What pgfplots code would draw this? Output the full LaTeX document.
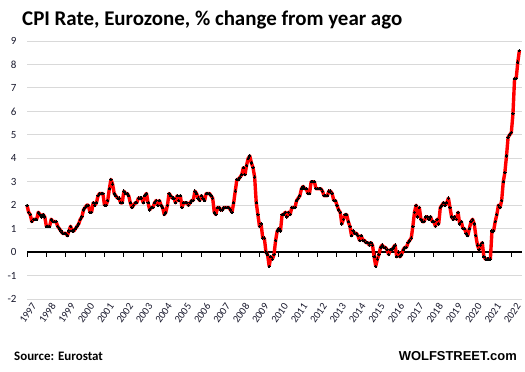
\documentclass[border=0pt]{standalone}
\usepackage{pgfplots}
\pgfplotsset{compat=1.18}
\usepackage{pgfplotstable}
\usepackage{fontspec}
\setmainfont{Carlito}
\newfontfamily\arialfont{Liberation Sans}
\definecolor{gridgray}{RGB}{217,217,217}
\definecolor{txt}{RGB}{25,25,45}
\pgfplotstableread{
yr mo v
1997 1 2.0
1997 2 1.7
1997 3 1.6
1997 4 1.3
1997 5 1.4
1997 6 1.4
1997 7 1.4
1997 8 1.7
1997 9 1.6
1997 10 1.5
1997 11 1.6
1997 12 1.5
1998 1 1.1
1998 2 1.1
1998 3 1.1
1998 4 1.4
1998 5 1.3
1998 6 1.3
1998 7 1.3
1998 8 1.1
1998 9 1.0
1998 10 0.9
1998 11 0.8
1998 12 0.8
1999 1 0.8
1999 2 0.7
1999 3 0.9
1999 4 1.1
1999 5 0.9
1999 6 0.9
1999 7 1.0
1999 8 1.1
1999 9 1.2
1999 10 1.4
1999 11 1.5
1999 12 1.8
2000 1 1.9
2000 2 2.0
2000 3 2.0
2000 4 1.7
2000 5 1.7
2000 6 2.1
2000 7 2.0
2000 8 2.1
2000 9 2.4
2000 10 2.5
2000 11 2.5
2000 12 2.5
2001 1 2.0
2001 2 2.0
2001 3 2.2
2001 4 2.7
2001 5 3.1
2001 6 2.9
2001 7 2.5
2001 8 2.4
2001 9 2.3
2001 10 2.3
2001 11 2.1
2001 12 2.1
2002 1 2.6
2002 2 2.5
2002 3 2.5
2002 4 2.4
2002 5 2.1
2002 6 1.9
2002 7 2.0
2002 8 2.1
2002 9 2.1
2002 10 2.3
2002 11 2.3
2002 12 2.3
2003 1 2.1
2003 2 2.4
2003 3 2.5
2003 4 2.1
2003 5 1.8
2003 6 1.9
2003 7 1.9
2003 8 2.1
2003 9 2.2
2003 10 2.0
2003 11 2.2
2003 12 2.0
2004 1 1.9
2004 2 1.6
2004 3 1.7
2004 4 2.0
2004 5 2.5
2004 6 2.4
2004 7 2.3
2004 8 2.3
2004 9 2.1
2004 10 2.4
2004 11 2.2
2004 12 2.4
2005 1 1.9
2005 2 2.1
2005 3 2.1
2005 4 2.1
2005 5 2.0
2005 6 2.1
2005 7 2.2
2005 8 2.2
2005 9 2.6
2005 10 2.5
2005 11 2.3
2005 12 2.2
2006 1 2.4
2006 2 2.3
2006 3 2.2
2006 4 2.5
2006 5 2.5
2006 6 2.5
2006 7 2.4
2006 8 2.3
2006 9 1.7
2006 10 1.6
2006 11 1.9
2006 12 1.9
2007 1 1.8
2007 2 1.8
2007 3 1.9
2007 4 1.9
2007 5 1.9
2007 6 1.9
2007 7 1.8
2007 8 1.7
2007 9 2.1
2007 10 2.6
2007 11 3.1
2007 12 3.1
2008 1 3.2
2008 2 3.3
2008 3 3.6
2008 4 3.3
2008 5 3.7
2008 6 4.0
2008 7 4.1
2008 8 3.8
2008 9 3.6
2008 10 3.2
2008 11 2.1
2008 12 1.6
2009 1 1.1
2009 2 1.2
2009 3 0.6
2009 4 0.6
2009 5 0.0
2009 6 -0.1
2009 7 -0.6
2009 8 -0.2
2009 9 -0.3
2009 10 -0.1
2009 11 0.5
2009 12 0.9
2010 1 1.0
2010 2 0.9
2010 3 1.6
2010 4 1.6
2010 5 1.7
2010 6 1.5
2010 7 1.7
2010 8 1.6
2010 9 1.9
2010 10 1.9
2010 11 1.9
2010 12 2.2
2011 1 2.3
2011 2 2.4
2011 3 2.7
2011 4 2.8
2011 5 2.7
2011 6 2.7
2011 7 2.5
2011 8 2.5
2011 9 3.0
2011 10 3.0
2011 11 3.0
2011 12 2.7
2012 1 2.7
2012 2 2.7
2012 3 2.7
2012 4 2.6
2012 5 2.4
2012 6 2.4
2012 7 2.4
2012 8 2.6
2012 9 2.6
2012 10 2.5
2012 11 2.2
2012 12 2.2
2013 1 2.0
2013 2 1.8
2013 3 1.7
2013 4 1.2
2013 5 1.4
2013 6 1.6
2013 7 1.6
2013 8 1.3
2013 9 1.1
2013 10 0.7
2013 11 0.9
2013 12 0.8
2014 1 0.8
2014 2 0.7
2014 3 0.5
2014 4 0.7
2014 5 0.5
2014 6 0.5
2014 7 0.4
2014 8 0.4
2014 9 0.3
2014 10 0.4
2014 11 0.3
2014 12 -0.2
2015 1 -0.6
2015 2 -0.3
2015 3 -0.1
2015 4 0.2
2015 5 0.3
2015 6 0.2
2015 7 0.2
2015 8 0.1
2015 9 -0.1
2015 10 0.1
2015 11 0.1
2015 12 0.2
2016 1 0.3
2016 2 -0.2
2016 3 0.0
2016 4 -0.2
2016 5 -0.1
2016 6 0.1
2016 7 0.2
2016 8 0.2
2016 9 0.4
2016 10 0.5
2016 11 0.6
2016 12 1.1
2017 1 1.7
2017 2 2.0
2017 3 1.5
2017 4 1.9
2017 5 1.4
2017 6 1.3
2017 7 1.3
2017 8 1.5
2017 9 1.5
2017 10 1.4
2017 11 1.5
2017 12 1.3
2018 1 1.3
2018 2 1.1
2018 3 1.4
2018 4 1.2
2018 5 1.9
2018 6 2.0
2018 7 2.1
2018 8 2.0
2018 9 2.1
2018 10 2.3
2018 11 1.9
2018 12 1.5
2019 1 1.4
2019 2 1.5
2019 3 1.4
2019 4 1.7
2019 5 1.2
2019 6 1.3
2019 7 1.0
2019 8 1.0
2019 9 0.8
2019 10 0.7
2019 11 1.0
2019 12 1.3
2020 1 1.4
2020 2 1.2
2020 3 0.7
2020 4 0.3
2020 5 0.1
2020 6 0.3
2020 7 0.4
2020 8 -0.2
2020 9 -0.3
2020 10 -0.3
2020 11 -0.3
2020 12 -0.3
2021 1 0.9
2021 2 0.9
2021 3 1.3
2021 4 1.6
2021 5 2.0
2021 6 1.9
2021 7 2.2
2021 8 3.0
2021 9 3.4
2021 10 4.1
2021 11 4.9
2021 12 5.0
2022 1 5.1
2022 2 5.9
2022 3 7.4
2022 4 7.4
2022 5 8.1
2022 6 8.6
}\cpidata
\begin{document}
\begin{tikzpicture}
\useasboundingbox (0,0) rectangle (525bp,372bp);
% background axis: grid and labels
\begin{axis}[
  at={(27bp,73bp)}, anchor=south west, scale only axis,
  width=495bp, height=258bp,
  xmin=1997, xmax=2022.55, ymin=-2, ymax=9,
  axis x line*=bottom, axis y line*=left,
  axis line style={draw=none},
  major tick length=0pt,
  xtick={1997,...,2022},
  ytick={-2,...,9},
  ymajorgrids,
  grid style={gridgray, line width=0.9pt},
  /pgf/number format/assume math mode=true,
  /pgf/number format/1000 sep={},
  yticklabel style={font=\fontsize{11}{13}\selectfont, text=txt, anchor=east, xshift=-7bp},
  xticklabel style={font=\fontsize{10.5}{12}\selectfont, text=txt, rotate=55, anchor=east, xshift=3bp, yshift=-9bp},
]
\addplot[draw=none] coordinates {(1997,0)};
\end{axis}
% zero line with ticks and the data
\begin{axis}[
  at={(27bp,73bp)}, anchor=south west, scale only axis,
  width=495bp, height=258bp,
  xmin=1997, xmax=2022.55, ymin=-2, ymax=9,
  axis x line=middle, axis y line=none,
  x axis line style={-, black, line width=1.2pt},
  xtick={1997,...,2022}, xticklabels={},
  xtick align=outside,
  major tick length=4.5bp,
  xtick style={black, line width=1pt},
  ytick=\empty,
  clip=false,
]
\addplot[red, line width=3.4pt, line join=round,
  mark=*, mark size=1.15pt, mark options={draw=black, fill=black, line width=0pt}]
  table[x expr={\thisrow{yr}+(\thisrow{mo}-1)/12}, y=v] {\cpidata};
\end{axis}
\node[anchor=base west, inner sep=0, font=\bfseries\fontsize{21}{24}\selectfont] at (22bp,346bp) {CPI Rate, Eurozone, \% change from year ago};
\node[anchor=base west, inner sep=0, font=\bfseries\fontsize{13}{15}\selectfont] at (14bp,12bp) {Source: Eurostat};
\node[anchor=base east, inner sep=0, font=\arialfont\bfseries\fontsize{13}{15}\selectfont] at (517bp,12bp) {WOLFSTREET.com};
\end{tikzpicture}
\end{document}
